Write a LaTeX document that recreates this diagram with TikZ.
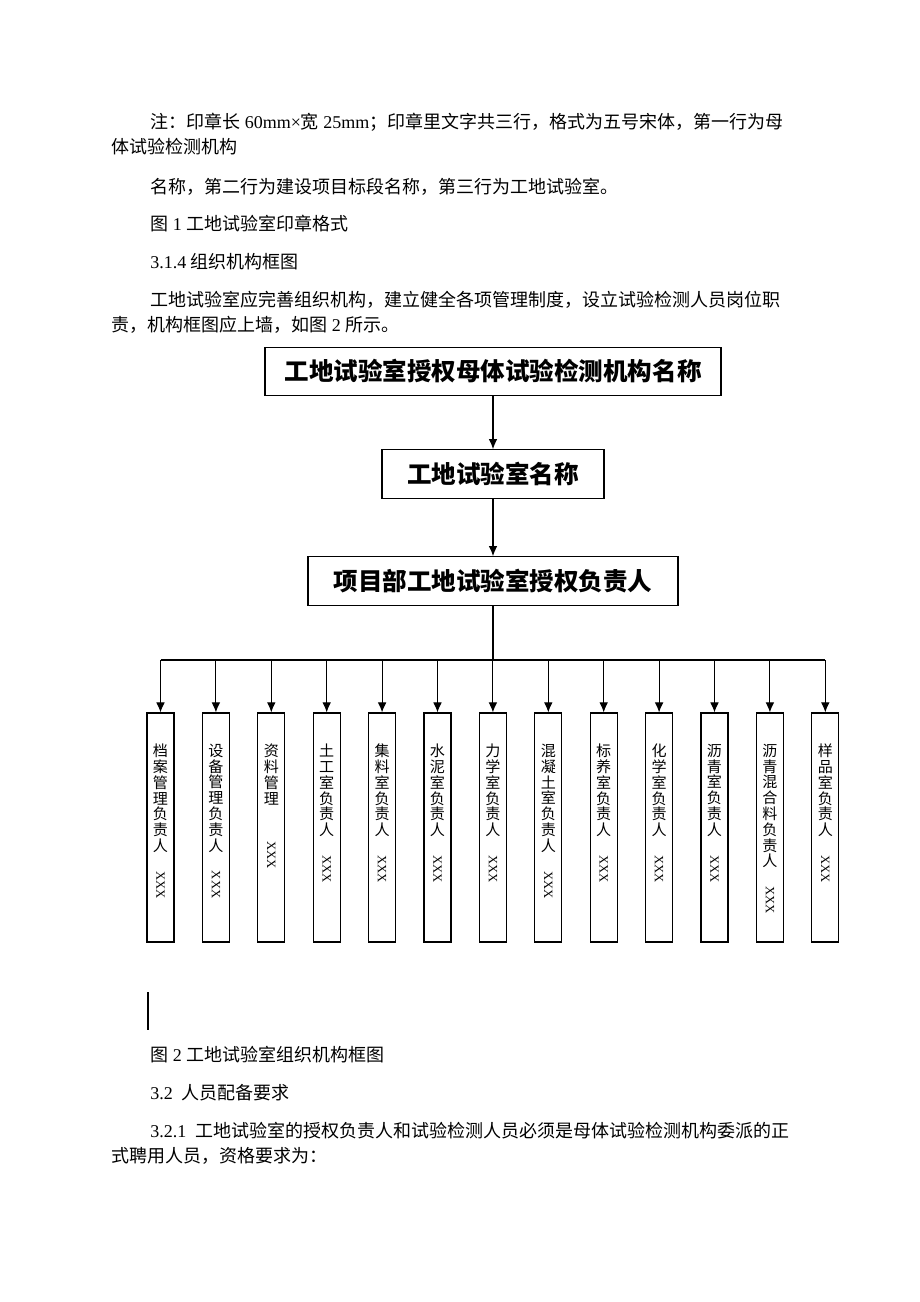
\documentclass[tikz,border=0pt]{standalone}
\usepackage{fontspec}
\usepackage{graphicx}
\setmainfont{Noto Sans CJK SC}
\newfontfamily\latin{Liberation Serif}
\usetikzlibrary{positioning,arrows.meta}
\newcommand{\lt}[1]{{\latin #1}}
\newcommand{\xname}{\rotatebox{-90}{\latin\fontsize{9.5}{11}\selectfont XXX}}
\tikzset{
  bodytext/.style={anchor=west,inner sep=0pt,font=\fontsize{13.5}{16}\selectfont},
  titlebox/.style={draw,line width=0.9pt,minimum height=36.5pt,inner sep=0pt,font=\fontsize{18.4}{22}\selectfont\bfseries},
  colbox/.style={draw,line width=0.9pt,minimum width=20.25pt,minimum height=171.75pt,inner sep=0pt},
  coltext/.style={align=center,inner sep=0pt,font=\fontsize{11.3}{11.85}\selectfont},
  arr/.style={line width=0.8pt,-{Latex[length=7.5pt,width=6.5pt]}}
}
\begin{document}
\begin{tikzpicture}[x=0.75pt,y=-0.75pt]
    \fill [white] (0,0) rectangle (920,1302);
        \node[bodytext] (n1) at (150,122) {注：印章长\lt{ 60mm×}宽\lt{ 25mm}；印章里文字共三行，格式为五号宋体，第一行为母};
        \node[bodytext] (n2) at (111,147) {体试验检测机构};
        \node[bodytext] (n3) at (150,187) {名称，第二行为建设项目标段名称，第三行为工地试验室。};
        \node[bodytext] (n4) at (150,224) {图\lt{ 1 }工地试验室印章格式};
        \node[bodytext] (n5) at (150,262) {\lt{3.1.4 }组织机构框图};
        \node[bodytext] (n6) at (150,300) {工地试验室应完善组织机构，建立健全各项管理制度，设立试验检测人员岗位职};
        \node[bodytext] (n7) at (111,325) {责，机构框图应上墙，如图\lt{ 2 }所示。};

    \node[titlebox,minimum width=342pt] (org) at (493,371.5) {工地试验室授权母体试验检测机构名称};
    \node[titlebox,minimum width=166.5pt] (lab) at (493,474) {工地试验室名称};
    \node[titlebox,minimum width=277.5pt] (head) at (493,581) {项目部工地试验室授权负责人};
    \draw [arr] (org) -- (lab);
    \draw [arr] (lab) -- (head);
    \coordinate (bus) at (493,660);
    \draw [line width=0.8pt] (head) -- (bus);

    \foreach \i/\txt in {1/{档\\案\\管\\理\\负\\责\\人\\[3pt]\xname},
        2/{设\\备\\管\\理\\负\\责\\人\\[3pt]\xname},
        3/{资\\料\\管\\理\\[16pt]\xname},
        4/{土\\工\\室\\负\\责\\人\\[3pt]\xname},
        5/{集\\料\\室\\负\\责\\人\\[3pt]\xname},
        6/{水\\泥\\室\\负\\责\\人\\[3pt]\xname},
        7/{力\\学\\室\\负\\责\\人\\[3pt]\xname},
        8/{混\\凝\\土\\室\\负\\责\\人\\[3pt]\xname},
        9/{标\\养\\室\\负\\责\\人\\[3pt]\xname},
        10/{化\\学\\室\\负\\责\\人\\[3pt]\xname},
        11/{沥\\青\\室\\负\\责\\人\\[3pt]\xname},
        12/{沥\\青\\混\\合\\料\\负\\责\\人\\[3pt]\xname},
        13/{样\\品\\室\\负\\责\\人\\[3pt]\xname}}
    {
        \node[colbox] (c\i) at ({160.5+55.4*(\i-1)},827.5) {};
        \node[coltext,below=23.5pt of c\i.north] (t\i) {\txt};
        \draw [arr] (c\i.north |- bus) -- (c\i.north);
    }
    \draw [line width=0.8pt] (c1.north |- bus) -- (c13.north |- bus);

    \coordinate (bar) at (148,992);
    \draw [line width=1.1pt] (bar) -- ++(0,38);
        \node[bodytext] (m1) at (150,1055) {图\lt{ 2 }工地试验室组织机构框图};
        \node[bodytext] (m2) at (150,1093) {\lt{3.2\ \ }人员配备要求};
        \node[bodytext] (m3) at (150,1131) {\lt{3.2.1\ \ }工地试验室的授权负责人和试验检测人员必须是母体试验检测机构委派的正};
        \node[bodytext] (m4) at (111,1156) {式聘用人员，资格要求为：};
  \end{tikzpicture}
\end{document}
